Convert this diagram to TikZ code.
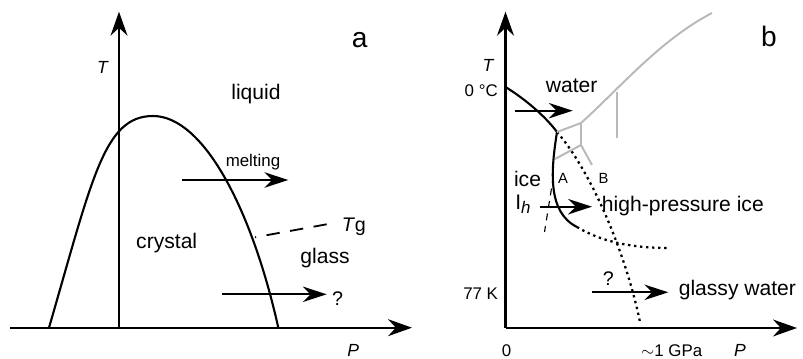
\documentclass[tikz,border=0pt]{standalone}
\usepackage{fontspec}
\setmainfont{Liberation Sans}
\usetikzlibrary{arrows.meta,positioning}

\begin{document}
\begin{tikzpicture}[
  x=0.025cm,y=-0.025cm,
  axis/.style={-{Stealth[length=17pt,width=12pt,inset=5.5pt]},line width=1.6pt},
  move/.style={-{Stealth[length=17pt,width=11pt,inset=5.5pt]},line width=1.5pt},
  phase/.style={line width=1.5pt},
  metastable/.style={line width=1.6pt,dash pattern=on 1.7pt off 2.6pt},
  glassline/.style={line width=1.3pt,dash pattern=on 9.5pt off 7.5pt},
  hidden/.style={line width=0.8pt,dash pattern=on 5pt off 4pt},
  highp/.style={draw=gray!55,line width=1.4pt},
  region/.style={font=\fontsize{15}{18}\selectfont,inner sep=0pt,anchor=base},
  tick/.style={font=\fontsize{12}{14}\selectfont,inner sep=0pt,anchor=base},
  axlabel/.style={font=\fontsize{12.5}{15}\selectfont\itshape,inner sep=0pt,anchor=base},
  panel/.style={font=\fontsize{20}{24}\selectfont,inner sep=0pt,anchor=base},
  query/.style={font=\fontsize{14}{16}\selectfont,inner sep=0pt,anchor=base},
  point/.style={font=\fontsize{10.5}{12}\selectfont,inner sep=0pt,anchor=base}
]
\useasboundingbox (0,0) rectangle (803,359);

% ===== (a) Axes =====
\coordinate (aL) at (10,327.7);
\coordinate (aO) at (119,327.7);
\coordinate (aP) at (412,327.7);
\coordinate (aT) at (119,11.7);
\draw[axis] (aL) -- (aP);
\draw[axis] (aO) -- (aT);
\node[axlabel] (aTl) at (102.5,73.3) {T};
\node[axlabel] (aPl) at (353.3,357) {P};
\node[panel] (alab) at (359.7,47.3) {a};

% ===== (a) Melting curve =====
\coordinate (mL) at (49,327.7);
\coordinate (mTop) at (153,116);
\coordinate (mR) at (278.3,327.7);
\draw[phase] (mL) .. controls (92.5,178) and (104,116) .. (mTop)
  .. controls (203,116) and (251.6,208) .. (mR);

% ===== (a) Glass line =====
\coordinate (gE) at (326.7,224.3);
\coordinate (gS) at (255,237.3);
\draw[glassline] (gE) -- (gS);
\node[region,anchor=base west,font=\fontsize{14}{16}\selectfont] (tg) at (341.5,231.7) {\textit{T}g};

% ===== (a) Regions =====
\node[region] (liquid) at (256,100) {liquid};
\node[region] (crystal) at (166.7,248.3) {crystal};
\node[region] (glass) at (325,263.3) {glass};

% ===== (a) Processes =====
\coordinate (m1) at (181.7,180);
\coordinate (m2) at (288.3,180);
\draw[move] (m1) -- (m2);
\node[tick] (melt) at (253,166.7) {melting};
\coordinate (q1) at (221.7,294.3);
\coordinate (q2) at (326.7,294.3);
\draw[move] (q1) -- (q2);
\node[query] (qa) at (337.5,306) {?};

% ===== (b) Axes =====
\coordinate (bO) at (505.5,328);
\coordinate (bP) at (797,328);
\coordinate (bT) at (505.5,11.7);
\draw[axis] (bO) -- (bP);
\draw[axis] (bO) -- (bT);
\node[axlabel] (bTl) at (488,72) {T};
\node[axlabel] (bPl) at (740,357) {P};
\node[panel] (blab) at (769,47) {b};
\node[tick,anchor=base east] (zc) at (498,97) {0 °C};
\node[tick,anchor=base east] (sk) at (498.3,300) {77 K};
\node[tick] (zero) at (506.5,356.7) {0};
\node[tick] (gpa) at (671.7,356.7) {$\sim$1 GPa};

% ===== (b) Ice Ih boundary =====
\coordinate (melt0) at (505.5,87);
\coordinate (tp) at (557,132);
\coordinate (ihEnd) at (577,227);
\coordinate (ihDot) at (668,248);
\coordinate (bEnd) at (640,322);
\draw[phase] (melt0) .. controls (525,99) and (545,116) .. (tp)
  .. controls (551,170) and (547,212) .. (ihEnd);
\draw[metastable] (ihEnd) .. controls (600,241) and (630,248) .. (ihDot);
\draw[metastable] (tp) .. controls (590,170) and (625,250) .. (bEnd);
\coordinate (hA) at (553.5,176);
\coordinate (hB) at (544.5,232);
\draw[hidden] (hA) -- (hB);

% ===== (b) High-pressure phases =====
\coordinate (g1) at (581,123);
\coordinate (g2) at (712,13);
\coordinate (g3) at (617,92);
\coordinate (g4) at (617,138);
\coordinate (g5) at (581,145);
\coordinate (g6) at (555,159);
\coordinate (g7) at (592,165);
\draw[highp] (tp) -- (g1) .. controls (620,88) and (660,40) .. (g2);
\draw[highp] (g3) -- (g4);
\draw[highp] (g1) -- (g5);
\draw[highp] (g5) -- (g6);
\draw[highp] (g5) -- (g7);

% ===== (b) Labels =====
\node[region] (water) at (571.7,93) {water};
\node[region] (ice) at (527.5,186.7) {ice};
\node[region,anchor=base west] (ih) at (515,210) {I\raisebox{-2.5pt}{\fontsize{12}{14}\selectfont\itshape h}};
\node[point] (A) at (563,184) {A};
\node[point] (B) at (603.5,183.3) {B};
\node[region,anchor=base west] (hpi) at (601.7,211.7) {high-pressure ice};
\node[region,anchor=base west] (gw) at (678.5,296) {glassy water};
\node[query] (qb) at (608.3,285.5) {?};

% ===== (b) Processes =====
\coordinate (w1) at (515,110.7);
\coordinate (w2) at (572.7,110.7);
\draw[move] (w1) -- (w2);
\coordinate (i1) at (540,206.7);
\coordinate (i2) at (592,206.7);
\draw[move] (i1) -- (i2);
\coordinate (v1) at (591.7,292.3);
\coordinate (v2) at (668.3,292.3);
\draw[move] (v1) -- (v2);

\end{tikzpicture}
\end{document}
